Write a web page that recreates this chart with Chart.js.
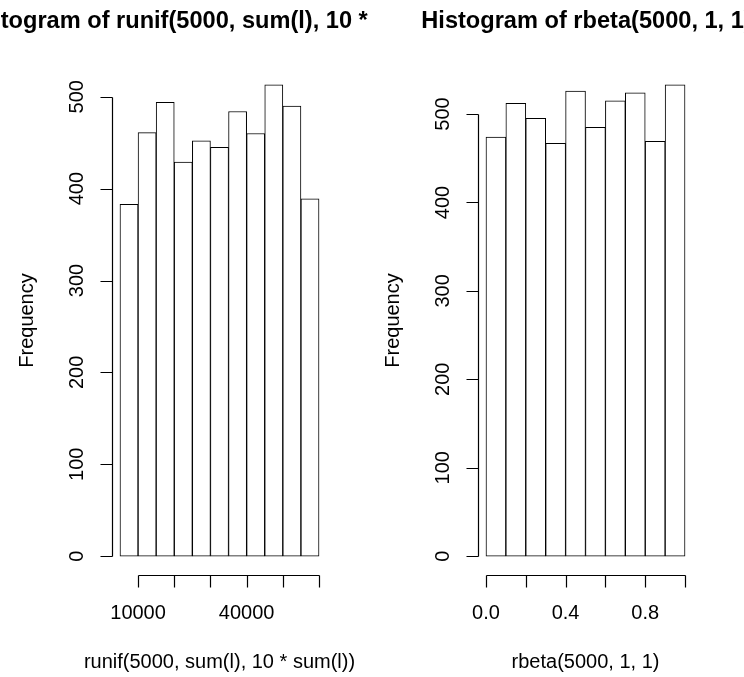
<!DOCTYPE html>
<html>
<head>
<meta charset="utf-8">
<script src="https://cdn.jsdelivr.net/npm/chart.js@4/dist/chart.umd.min.js"></script>
<style>
  html, body { margin: 0; padding: 0; background: #fff; }
  #wrap { position: relative; width: 744px; height: 677px; overflow: hidden; background: #fff; }
  canvas { position: absolute; top: 0; }
</style>
</head>
<body>
<div id="wrap">
  <canvas id="left" width="380" height="677" style="left:0"></canvas>
  <canvas id="right" width="364" height="677" style="left:380px"></canvas>
</div>
<script>
// Histogram bin edges and counts
const leftBreaks = [5000, 10000, 15000, 20000, 25000, 30000, 35000, 40000, 45000, 50000, 55000, 60000];
const leftCounts = [383, 461, 494, 429, 452, 445, 484, 460, 513, 490, 389];
const leftXTicks = [10000, 20000, 30000, 40000, 50000, 60000];
const leftXTickLabels = ['10000', '', '', '40000', '', ''];

const rightBreaks = [0, 0.1, 0.2, 0.3, 0.4, 0.5, 0.6, 0.7, 0.8, 0.9, 1.0];
const rightCounts = [474, 512, 495, 467, 526, 485, 515, 524, 469, 533];
const rightXTicks = [0, 0.2, 0.4, 0.6, 0.8, 1.0];
const rightXTickLabels = ['0.0', '', '0.4', '', '0.8', ''];

const yTicks = [0, 100, 200, 300, 400, 500];
const yTickLabels = ['0', '100', '200', '300', '400', '500'];

const FONT = "'Liberation Sans', Arial, Helvetica, sans-serif";

// Base-graphics style axes, labels and title
const rStyle = {
  id: 'rStyle',
  afterDraw(chart, args, o) {
    const ctx = chart.ctx;
    const xs = chart.scales.x, ys = chart.scales.y, area = chart.chartArea;
    const px = v => Math.round(v) + 0.5;
    ctx.save();
    ctx.strokeStyle = '#000';
    ctx.fillStyle = '#000';
    ctx.lineWidth = 1.2;
    const tick = 12;

    // y axis
    const ax = px(area.left);
    const yA = ys.getPixelForValue(o.yTicks[0]);
    const yB = ys.getPixelForValue(o.yTicks[o.yTicks.length - 1]);
    ctx.beginPath();
    ctx.moveTo(ax, px(yA)); ctx.lineTo(ax, px(yB));
    o.yTicks.forEach(v => {
      const py = px(ys.getPixelForValue(v));
      ctx.moveTo(ax, py); ctx.lineTo(ax - tick, py);
    });
    ctx.stroke();
    ctx.font = '20px ' + FONT;
    ctx.textAlign = 'center';
    ctx.textBaseline = 'middle';
    o.yTicks.forEach((v, i) => {
      const py = ys.getPixelForValue(v);
      ctx.save();
      ctx.translate(area.left - 35, py);
      ctx.rotate(-Math.PI / 2);
      ctx.fillText(o.yTickLabels[i], 0, 0);
      ctx.restore();
    });

    // x axis
    const ay = px(area.bottom);
    const xA = xs.getPixelForValue(o.xTicks[0]);
    const xB = xs.getPixelForValue(o.xTicks[o.xTicks.length - 1]);
    ctx.beginPath();
    ctx.moveTo(px(xA), ay); ctx.lineTo(px(xB), ay);
    o.xTicks.forEach(v => {
      const qx = px(xs.getPixelForValue(v));
      ctx.moveTo(qx, ay); ctx.lineTo(qx, ay + tick);
    });
    ctx.stroke();
    o.xTicks.forEach((v, i) => {
      if (o.xTickLabels[i]) ctx.fillText(o.xTickLabels[i], xs.getPixelForValue(v), area.bottom + 38);
    });

    // axis titles
    const cx = (area.left + area.right) / 2;
    ctx.fillText(o.xTitle, cx, area.bottom + 87);
    ctx.save();
    ctx.translate(area.left - 85, (area.top + area.bottom) / 2);
    ctx.rotate(-Math.PI / 2);
    ctx.fillText('Frequency', 0, 0);
    ctx.restore();

    // main title, clipped to this panel's figure region
    ctx.beginPath();
    ctx.rect(0, 0, o.titleClip, chart.height);
    ctx.clip();
    ctx.font = 'bold 23.6px ' + FONT;
    ctx.textBaseline = 'alphabetic';
    ctx.fillText(o.title, cx + o.titleShift, 28);
    ctx.restore();
  }
};

function histogram(canvasId, breaks, counts, xTicks, xTickLabels, title, xTitle, pad, titleShift, titleClip) {
  const data = counts.map((c, i) => ({ x: (breaks[i] + breaks[i + 1]) / 2, y: c }));
  const xmin = breaks[0], xmax = breaks[breaks.length - 1];
  const xr = xmax - xmin;
  const ymax = Math.max(...counts);
  return new Chart(document.getElementById(canvasId), {
    type: 'bar',
    data: {
      datasets: [{
        data: data,
        backgroundColor: '#ffffff',
        borderColor: '#000000',
        borderWidth: 1,
        borderSkipped: false,
        barPercentage: 1,
        categoryPercentage: 1
      }]
    },
    options: {
      responsive: false,
      animation: false,
      devicePixelRatio: 1,
      layout: { padding: pad },
      scales: {
        x: { type: 'linear', offset: false, min: xmin - 0.04 * xr, max: xmax + 0.04 * xr, display: false },
        y: { type: 'linear', min: -0.04 * ymax, max: 1.04 * ymax, display: false }
      },
      plugins: {
        legend: { display: false },
        tooltip: { enabled: false },
        rStyle: { yTicks, yTickLabels, xTicks, xTickLabels, title, xTitle, titleShift, titleClip }
      }
    },
    plugins: [rStyle]
  });
}

histogram('left', leftBreaks, leftCounts, leftXTicks, leftXTickLabels,
  'Histogram of runif(5000, sum(l), 10 * sum(l))', 'runif(5000, sum(l), 10 * sum(l))',
  { left: 112, right: 53, top: 66, bottom: 102 }, -11, 374);

histogram('right', rightBreaks, rightCounts, rightXTicks, rightXTickLabels,
  'Histogram of rbeta(5000, 1, 1)', 'rbeta(5000, 1, 1)',
  { left: 98, right: 51, top: 66, bottom: 102 }, 1, 364);
</script>
</body>
</html>
